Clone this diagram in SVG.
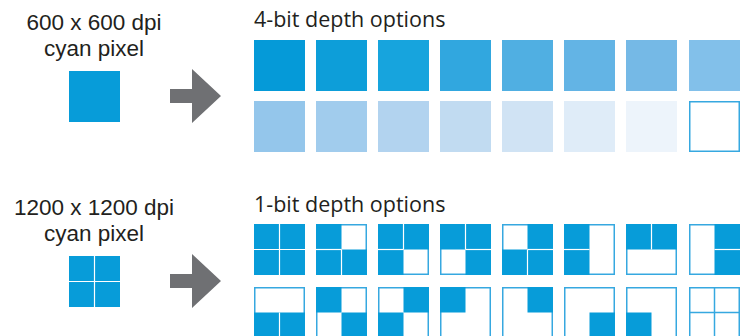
<svg xmlns="http://www.w3.org/2000/svg" width="747" height="336" viewBox="0 0 747 336">
<style>
text{font-family:"Open Sans","Noto Sans","Liberation Sans",sans-serif;font-size:21.5px;fill:#231f20}
.lb{font-family:"Liberation Sans",Arial,sans-serif;font-size:22.5px}
.c{fill:#079cd9}
.o{fill:#fff;stroke:#36a8e0;stroke-width:1.5}
.d{stroke:#fff;stroke-width:1.2}
.g{stroke:#36a8e0;stroke-width:1.5}
.ar{fill:#6f7073}
</style>
<g id="label-600">
<text class="lb" x="94" y="30" text-anchor="middle">600 x 600 dpi</text>
<text class="lb" x="94" y="56" text-anchor="middle">cyan pixel</text>
</g>
<g id="pixel-600"><rect class="c" x="69" y="71" width="51" height="51"/></g>
<g id="label-1200">
<text class="lb" x="94" y="215" text-anchor="middle">1200 x 1200 dpi</text>
<text class="lb" x="94" y="241" text-anchor="middle">cyan pixel</text>
</g>
<g id="pixel-1200">
<rect class="c" x="69" y="256" width="51" height="51"/>
<line class="d" x1="94.5" y1="256" x2="94.5" y2="307"/>
<line class="d" x1="69" y1="281.5" x2="120" y2="281.5"/>
</g>
<g id="connectors">
<path class="ar" d="M170,89 H192 V69 L221,96 L192,123 V103 H170 Z"/>
<path class="ar" d="M170,274 H192 V254 L221,281 L192,308 V288 H170 Z"/>
</g>
<g id="four-bit">
<text x="254" y="27">4-bit depth options</text>
<rect x="254" y="40" width="51" height="51" fill="#059ad8"/>
<rect x="316" y="40" width="51" height="51" fill="#0d9ed9"/>
<rect x="378" y="40" width="51" height="51" fill="#17a4dd"/>
<rect x="440" y="40" width="51" height="51" fill="#31a7df"/>
<rect x="502" y="40" width="51" height="51" fill="#50afe2"/>
<rect x="564" y="40" width="51" height="51" fill="#63b4e5"/>
<rect x="626" y="40" width="51" height="51" fill="#75b9e6"/>
<rect x="689" y="40" width="51" height="51" fill="#82c0ea"/>
<rect x="254" y="101" width="51" height="51" fill="#94c6eb"/>
<rect x="316" y="101" width="51" height="51" fill="#a1cced"/>
<rect x="378" y="101" width="51" height="51" fill="#b2d3ef"/>
<rect x="440" y="101" width="51" height="51" fill="#c1dbf1"/>
<rect x="502" y="101" width="51" height="51" fill="#d0e3f4"/>
<rect x="564" y="101" width="51" height="51" fill="#dfecf8"/>
<rect x="626" y="101" width="51" height="51" fill="#edf4fb"/>
<rect class="o" x="689.75" y="101.75" width="49.5" height="49.5"/>
</g>
<g id="one-bit">
<text x="254" y="212">1-bit depth options</text>
<g id="t1-1">
<rect class="c" x="254" y="224" width="51" height="51"/>
<line class="d" x1="279.5" y1="224" x2="279.5" y2="275"/>
<line class="d" x1="254" y1="249.5" x2="305" y2="249.5"/>
</g>
<g id="t1-2">
<rect class="o" x="316.75" y="224.75" width="49.5" height="49.5"/>
<rect class="c" x="316" y="224" width="25.5" height="25.5"/>
<rect class="c" x="316" y="249.5" width="51" height="25.5"/>
<line class="d" x1="316" y1="249.5" x2="341.5" y2="249.5"/>
<line class="d" x1="341.5" y1="249.5" x2="341.5" y2="275"/>
</g>
<g id="t1-3">
<rect class="o" x="378.75" y="224.75" width="49.5" height="49.5"/>
<rect class="c" x="378" y="224" width="51" height="25.5"/>
<rect class="c" x="378" y="249.5" width="25.5" height="25.5"/>
<line class="d" x1="403.5" y1="224" x2="403.5" y2="249.5"/>
<line class="d" x1="378" y1="249.5" x2="403.5" y2="249.5"/>
</g>
<g id="t1-4">
<rect class="o" x="440.75" y="224.75" width="49.5" height="49.5"/>
<rect class="c" x="440" y="224" width="51" height="25.5"/>
<rect class="c" x="465.5" y="249.5" width="25.5" height="25.5"/>
<line class="d" x1="465.5" y1="224" x2="465.5" y2="249.5"/>
<line class="d" x1="465.5" y1="249.5" x2="491" y2="249.5"/>
</g>
<g id="t1-5">
<rect class="o" x="502.75" y="224.75" width="49.5" height="49.5"/>
<rect class="c" x="527.5" y="224" width="25.5" height="25.5"/>
<rect class="c" x="502" y="249.5" width="51" height="25.5"/>
<line class="d" x1="527.5" y1="249.5" x2="527.5" y2="275"/>
<line class="d" x1="527.5" y1="249.5" x2="553" y2="249.5"/>
</g>
<g id="t1-6">
<rect class="o" x="564.75" y="224.75" width="49.5" height="49.5"/>
<rect class="c" x="564" y="224" width="25.5" height="51"/>
<line class="d" x1="564" y1="249.5" x2="589.5" y2="249.5"/>
</g>
<g id="t1-7">
<rect class="o" x="626.75" y="224.75" width="49.5" height="49.5"/>
<rect class="c" x="626" y="224" width="51" height="25.5"/>
<line class="d" x1="651.5" y1="224" x2="651.5" y2="249.5"/>
</g>
<g id="t1-8">
<rect class="o" x="689.75" y="224.75" width="49.5" height="49.5"/>
<rect class="c" x="714.5" y="224" width="25.5" height="51"/>
<line class="d" x1="714.5" y1="249.5" x2="740" y2="249.5"/>
</g>
<g id="t2-1">
<rect class="o" x="254.75" y="287.75" width="49.5" height="49.5"/>
<rect class="c" x="254" y="312.5" width="51" height="25.5"/>
<line class="d" x1="279.5" y1="312.5" x2="279.5" y2="338"/>
</g>
<g id="t2-2">
<rect class="o" x="316.75" y="287.75" width="49.5" height="49.5"/>
<rect class="c" x="316" y="287" width="25.5" height="25.5"/>
<rect class="c" x="341.5" y="312.5" width="25.5" height="25.5"/>
</g>
<g id="t2-3">
<rect class="o" x="378.75" y="287.75" width="49.5" height="49.5"/>
<rect class="c" x="403.5" y="287" width="25.5" height="25.5"/>
<rect class="c" x="378" y="312.5" width="25.5" height="25.5"/>
</g>
<g id="t2-4">
<rect class="o" x="440.75" y="287.75" width="49.5" height="49.5"/>
<rect class="c" x="440" y="287" width="25.5" height="25.5"/>
</g>
<g id="t2-5">
<rect class="o" x="502.75" y="287.75" width="49.5" height="49.5"/>
<rect class="c" x="527.5" y="287" width="25.5" height="25.5"/>
</g>
<g id="t2-6">
<rect class="o" x="564.75" y="287.75" width="49.5" height="49.5"/>
<rect class="c" x="589.5" y="312.5" width="25.5" height="25.5"/>
</g>
<g id="t2-7">
<rect class="o" x="626.75" y="287.75" width="49.5" height="49.5"/>
<rect class="c" x="626" y="312.5" width="25.5" height="25.5"/>
</g>
<g id="t2-8">
<rect class="o" x="689.75" y="287.75" width="49.5" height="49.5"/>
<line class="g" x1="714.5" y1="287" x2="714.5" y2="338"/>
<line class="g" x1="689" y1="312.5" x2="740" y2="312.5"/>
</g>
</g>
</svg>
